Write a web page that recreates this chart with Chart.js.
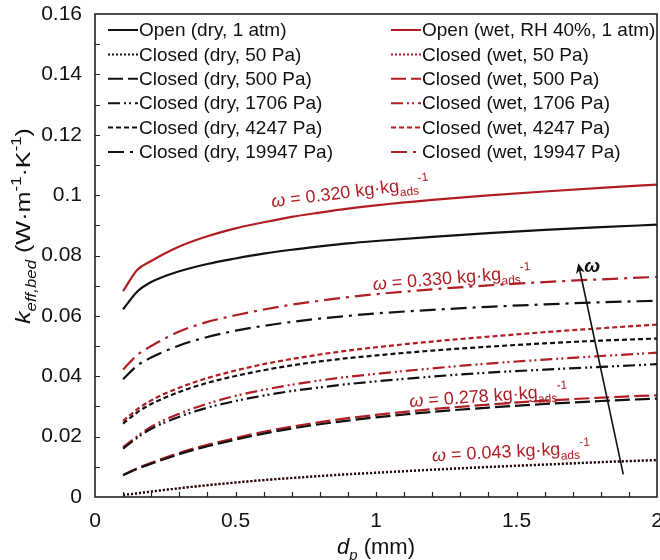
<!DOCTYPE html>
<html>
<head>
<meta charset="utf-8">
<script src="https://cdn.jsdelivr.net/npm/chart.js@4.4.1/dist/chart.umd.min.js"></script>
<style>
  html, body { margin: 0; padding: 0; background: #fff; }
  #wrap { width: 660px; height: 560px; position: relative; }
</style>
</head>
<body>
<div id="wrap"><canvas id="chart"></canvas></div>
<script>
// particle diameter d_p (mm)
const dp = [0.1, 0.15, 0.2, 0.3, 0.4, 0.5, 0.6, 0.7, 0.8, 0.9, 1.0, 1.2, 1.4, 1.6, 1.8, 2.0];

// k_eff,bed (W/m/K)
const openDry  = [0.0622, 0.0680, 0.0712, 0.0748, 0.0772, 0.0790, 0.0806, 0.0819, 0.0830, 0.0840, 0.0848, 0.0862, 0.0874, 0.0885, 0.0894, 0.0902];
const openWet  = [0.0682, 0.0752, 0.0782, 0.0830, 0.0864, 0.0890, 0.0910, 0.0928, 0.0942, 0.0955, 0.0966, 0.0984, 0.0999, 0.1012, 0.1024, 0.1035];
const dry50    = [0.0007, 0.0012, 0.0018, 0.0029, 0.0039, 0.0048, 0.0056, 0.0063, 0.0069, 0.0075, 0.0080, 0.0090, 0.0099, 0.0107, 0.0115, 0.0122];
const wet50    = [0.0007, 0.0012, 0.0018, 0.0029, 0.0039, 0.0048, 0.0056, 0.0063, 0.0070, 0.0076, 0.0081, 0.0091, 0.0100, 0.0108, 0.0116, 0.0123];
const dry500   = [0.0072, 0.0093, 0.0110, 0.0142, 0.0168, 0.0190, 0.0210, 0.0227, 0.0241, 0.0253, 0.0264, 0.0282, 0.0296, 0.0308, 0.0318, 0.0326];
const wet500   = [0.0073, 0.0095, 0.0113, 0.0146, 0.0173, 0.0195, 0.0216, 0.0233, 0.0248, 0.0261, 0.0272, 0.0291, 0.0306, 0.0319, 0.0329, 0.0337];
const dry1706  = [0.0160, 0.0196, 0.0226, 0.0266, 0.0296, 0.0318, 0.0336, 0.0351, 0.0363, 0.0374, 0.0383, 0.0399, 0.0412, 0.0422, 0.0431, 0.0440];
const wet1706  = [0.0165, 0.0201, 0.0233, 0.0276, 0.0309, 0.0335, 0.0355, 0.0372, 0.0386, 0.0398, 0.0408, 0.0426, 0.0442, 0.0455, 0.0467, 0.0478];
const dry4247  = [0.0243, 0.0280, 0.0308, 0.0348, 0.0378, 0.0401, 0.0420, 0.0436, 0.0449, 0.0460, 0.0469, 0.0485, 0.0498, 0.0509, 0.0518, 0.0525];
const wet4247  = [0.0252, 0.0290, 0.0320, 0.0362, 0.0394, 0.0419, 0.0440, 0.0457, 0.0472, 0.0485, 0.0496, 0.0515, 0.0531, 0.0546, 0.0559, 0.0571];
const dry19947 = [0.0390, 0.0435, 0.0462, 0.0502, 0.0530, 0.0551, 0.0567, 0.0580, 0.0591, 0.0600, 0.0608, 0.0620, 0.0630, 0.0638, 0.0645, 0.0650];
const wet19947 = [0.0422, 0.0470, 0.0500, 0.0548, 0.0580, 0.0602, 0.0621, 0.0637, 0.0650, 0.0662, 0.0672, 0.0688, 0.0701, 0.0712, 0.0721, 0.0729];

const xTicks = [0, 0.5, 1, 1.5, 2];
const yTicks = [0, 0.02, 0.04, 0.06, 0.08, 0.1, 0.12, 0.14, 0.16];

const RED = "#b01e24";
const BLACK = "#111";
const FONT = "'Liberation Sans', Arial, sans-serif";

// dashes per pressure
const DASH = {
  open: [],
  p50: [2, 2],
  p500: [15, 5],
  p1706: [12, 4, 2, 3, 2, 4],
  p4247: [5, 3],
  p19947: [16, 6, 3, 6],
};

// interleaved: left legend column = dry, right = wet
const series = [
  ["Open (dry, 1 atm)", openDry, BLACK, DASH.open],
  ["Open (wet, RH 40%, 1 atm)", openWet, RED, DASH.open],
  ["Closed (dry, 50 Pa)", dry50, BLACK, DASH.p50],
  ["Closed (wet, 50 Pa)", wet50, RED, DASH.p50],
  ["Closed (dry, 500 Pa)", dry500, BLACK, DASH.p500],
  ["Closed (wet, 500 Pa)", wet500, RED, DASH.p500],
  ["Closed (dry, 1706 Pa)", dry1706, BLACK, DASH.p1706],
  ["Closed (wet, 1706 Pa)", wet1706, RED, DASH.p1706],
  ["Closed (dry, 4247 Pa)", dry4247, BLACK, DASH.p4247],
  ["Closed (wet, 4247 Pa)", wet4247, RED, DASH.p4247],
  ["Closed (dry, 19947 Pa)", dry19947, BLACK, DASH.p19947],
  ["Closed (wet, 19947 Pa)", wet19947, RED, DASH.p19947],
];

// moisture labels, anchored at (d_p, k) of their left baseline
const notes = [
  { w: "0.320", x: 0.63, y: 0.0960, rot: -7 },
  { w: "0.330", x: 0.99, y: 0.0686, rot: -4.5 },
  { w: "0.278", x: 1.12, y: 0.0298, rot: -4 },
  { w: "0.043", x: 1.20, y: 0.0118, rot: -3 },
];

function drawRich(ctx, parts, x, y, size, measureOnly) {
  let cx = x;
  for (const [t, f] of parts) {
    const o = f || {};
    const small = o.sub || o.sup;
    const fs = small ? Math.round(size * 0.66) : size;
    ctx.font = (o.i ? "italic " : "") + (o.b ? "bold " : "") + fs + "px " + FONT;
    let dy = 0;
    if (o.sub) dy = size * 0.28;
    if (o.sup) dy = -size * 0.42;
    if (!measureOnly) ctx.fillText(t, cx, y + dy);
    cx += ctx.measureText(t).width;
  }
  return cx - x;
}

const decor = {
  id: "decor",
  afterDatasetsDraw(chart) {
    const { ctx, chartArea: a, scales: { x, y } } = chart;
    ctx.save();

    // inward minor/major ticks
    ctx.strokeStyle = "#222";
    ctx.lineWidth = 1.2;
    ctx.beginPath();
    for (let i = 1; i < 20; i++) {
      const px = Math.round(x.getPixelForValue(i / 10)) + 0.5;
      ctx.moveTo(px, a.bottom);
      ctx.lineTo(px, a.bottom - 5);
    }
    for (let i = 1; i < 16; i++) {
      const py = Math.round(y.getPixelForValue(i / 100)) + 0.5;
      ctx.moveTo(a.left, py);
      ctx.lineTo(a.left + 5, py);
    }
    ctx.stroke();

    // frame
    ctx.lineWidth = 1.6;
    ctx.strokeStyle = "#222";
    ctx.strokeRect(a.left, a.top, a.right - a.left, a.bottom - a.top);

    // legend, two columns
    const ds = chart.data.datasets;
    ds.forEach((d, i) => {
      const col = i % 2, row = Math.floor(i / 2);
      const lx = a.left + 13 + col * 283;
      const ly = a.top + 16 + row * 24.4;
      ctx.strokeStyle = d.borderColor;
      ctx.lineWidth = 2;
      ctx.setLineDash(d.borderDash);
      ctx.beginPath();
      ctx.moveTo(lx, ly);
      ctx.lineTo(lx + 30, ly);
      ctx.stroke();
      ctx.setLineDash([]);
      ctx.fillStyle = "#111";
      ctx.font = "19px " + FONT;
      ctx.textBaseline = "middle";
      ctx.textAlign = "left";
      ctx.fillText(d.label, lx + 31, ly + 1);
    });

    // moisture notes
    ctx.fillStyle = RED;
    ctx.textBaseline = "alphabetic";
    notes.forEach((n) => {
      const px = x.getPixelForValue(n.x), py = y.getPixelForValue(n.y);
      ctx.save();
      ctx.translate(px, py);
      ctx.rotate(n.rot * Math.PI / 180);
      drawRich(ctx, [["\u03C9", { i: 1 }], [" = " + n.w + " kg\u00B7kg"], ["ads", { sub: 1 }], ["-1", { sup: 1 }]], 0, 0, 18);
      ctx.restore();
    });

    // omega arrow
    const x0 = x.getPixelForValue(1.88), y0 = y.getPixelForValue(0.0075);
    const x1 = x.getPixelForValue(1.72), y1 = y.getPixelForValue(0.0774);
    const ang = Math.atan2(y1 - y0, x1 - x0);
    ctx.strokeStyle = "#111";
    ctx.fillStyle = "#111";
    ctx.lineWidth = 1.6;
    ctx.beginPath();
    ctx.moveTo(x0, y0);
    ctx.lineTo(x1 - 6 * Math.cos(ang), y1 - 6 * Math.sin(ang));
    ctx.stroke();
    ctx.beginPath();
    ctx.moveTo(x1, y1);
    ctx.lineTo(x1 - 10 * Math.cos(ang) + 4.5 * Math.sin(ang), y1 - 10 * Math.sin(ang) - 4.5 * Math.cos(ang));
    ctx.lineTo(x1 - 7 * Math.cos(ang), y1 - 7 * Math.sin(ang));
    ctx.lineTo(x1 - 10 * Math.cos(ang) - 4.5 * Math.sin(ang), y1 - 10 * Math.sin(ang) + 4.5 * Math.cos(ang));
    ctx.closePath();
    ctx.fill();
    ctx.font = "italic bold 19px " + FONT;
    ctx.textBaseline = "middle";
    ctx.fillText("\u03C9", x1 + 6, y1 + 3);

    // axis titles
    ctx.fillStyle = "#111";
    ctx.textBaseline = "alphabetic";
    const xt = [["d", { i: 1 }], ["p", { i: 1, sub: 1 }], [" (mm)"]];
    const xw = drawRich(ctx, xt, 0, 0, 22, true);
    drawRich(ctx, xt, (a.left + a.right) / 2 - xw / 2, 554, 22);

    const yt = [["k", { i: 1 }], ["eff,bed", { i: 1, sub: 1 }], [" (W\u00B7m"], ["-1", { sup: 1 }], ["\u00B7K"], ["-1", { sup: 1 }], [")"]];
    const yw = drawRich(ctx, yt, 0, 0, 21, true);
    ctx.translate(30, 226);
    ctx.rotate(-Math.PI / 2);
    ctx.scale(1.2, 1);
    drawRich(ctx, yt, -yw / 2, 0, 21);

    ctx.restore();
  },
};

new Chart(document.getElementById("chart"), {
  type: "line",
  data: {
    datasets: series.map(([label, vals, color, dash]) => ({
      label,
      data: dp.map((v, i) => ({ x: v, y: vals[i] })),
      borderColor: color,
      borderDash: dash,
      borderWidth: 2.2,
      pointRadius: 0,
      fill: false,
      cubicInterpolationMode: "monotone",
    })),
  },
  options: {
    responsive: true,
    maintainAspectRatio: false,
    animation: false,
    layout: { padding: { top: 14, right: 3, left: 0, bottom: 0 } },
    plugins: { legend: { display: false }, tooltip: { enabled: false } },
    scales: {
      x: {
        type: "linear",
        min: 0,
        max: 2,
        afterBuildTicks: (s) => { s.ticks = xTicks.map((v) => ({ value: v })); },
        afterFit: (s) => { s.height = 63; s.paddingLeft = 0; s.paddingRight = 0; },
        grid: { display: false, drawTicks: false },
        border: { display: false },
        ticks: { color: "#111", font: { family: FONT, size: 21 }, padding: 12, callback: (v) => String(v) },
      },
      y: {
        min: 0,
        max: 0.16,
        afterBuildTicks: (s) => { s.ticks = yTicks.map((v) => ({ value: v })); },
        afterFit: (s) => { s.width = 95; s.paddingTop = 0; s.paddingBottom = 0; },
        grid: { display: false, drawTicks: false },
        border: { display: false },
        ticks: { color: "#111", font: { family: FONT, size: 21 }, padding: 13, callback: (v) => String(v) },
      },
    },
  },
  plugins: [decor],
});
</script>
</body>
</html>
